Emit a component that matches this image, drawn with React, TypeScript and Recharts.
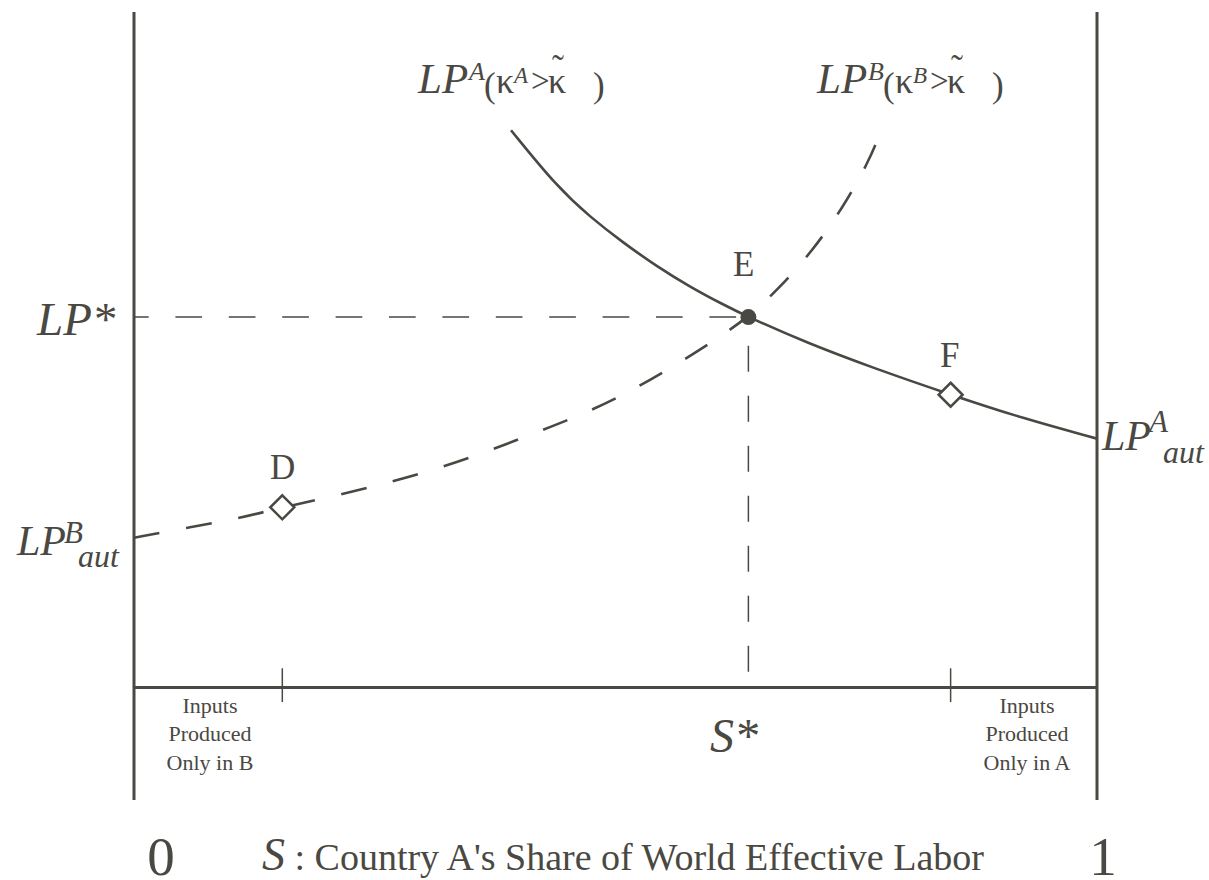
import {
  ComposedChart,
  Line,
  Scatter,
  XAxis,
  YAxis,
  ReferenceLine,
} from "recharts";

const INK = "#4a4842";
const SERIF = '"Liberation Serif", "Times New Roman", serif';

// LP^A (kappa^A > kappa~): solid, falling in S
const curveA = [
  { s: 0.3915, lp: 4.95 },
  { s: 0.439, lp: 4.45 },
  { s: 0.4735, lp: 4.18 },
  { s: 0.508, lp: 3.95 },
  { s: 0.543, lp: 3.74 },
  { s: 0.577, lp: 3.56 },
  { s: 0.612, lp: 3.4 },
  { s: 0.638, lp: 3.29 },
  { s: 0.699, lp: 3.06 },
  { s: 0.767, lp: 2.84 },
  { s: 0.848, lp: 2.6 },
  { s: 0.923, lp: 2.39 },
  { s: 1.0, lp: 2.21 },
];

// LP^B (kappa^B > kappa~): dashed, rising in S
const curveB = [
  { s: 0.0, lp: 1.33 },
  { s: 0.057, lp: 1.42 },
  { s: 0.113, lp: 1.51 },
  { s: 0.154, lp: 1.6 },
  { s: 0.193, lp: 1.67 },
  { s: 0.246, lp: 1.78 },
  { s: 0.299, lp: 1.9 },
  { s: 0.353, lp: 2.05 },
  { s: 0.404, lp: 2.22 },
  { s: 0.456, lp: 2.39 },
  { s: 0.507, lp: 2.59 },
  { s: 0.554, lp: 2.82 },
  { s: 0.601, lp: 3.07 },
  { s: 0.638, lp: 3.29 },
  { s: 0.667, lp: 3.52 },
  { s: 0.704, lp: 3.87 },
  { s: 0.736, lp: 4.26 },
  { s: 0.763, lp: 4.67 },
  { s: 0.775, lp: 4.93 },
];

const S_STAR = 0.638;
const LP_STAR = 3.29;
const equilibrium = [{ s: S_STAR, lp: LP_STAR }];
const openPoints = [
  { s: 0.154, lp: 1.6 },
  { s: 0.848, lp: 2.6 },
];
// boundaries of the specialisation regions (D and F)
const regionTicks = [0.154, 0.848];

const W = 1209;
const H = 880;

function Diamond(props: any) {
  const { cx, cy } = props;
  const r = 12;
  return (
    <path
      d={`M${cx},${cy - r}L${cx + r},${cy}L${cx},${cy + r}L${cx - r},${cy}Z`}
      fill="#fff"
      stroke={INK}
      strokeWidth={2.5}
    />
  );
}

function Dot(props: any) {
  const { cx, cy } = props;
  return <circle cx={cx} cy={cy} r={8} fill={INK} />;
}

function CurveLabel({ x, letter }: { x: number; letter: string }) {
  return (
    <g fill={INK} fontFamily={SERIF}>
      <text x={x} y={93} fontSize={43} fontStyle="italic">LP</text>
      <text x={x + 51} y={80} fontSize={26} fontStyle="italic">{letter}</text>
      <text x={x + 66} y={97} fontSize={35}>(</text>
      <text x={x + 78} y={93} fontSize={36}>κ</text>
      <text x={x + 96} y={83} fontSize={23} fontStyle="italic">{letter}</text>
      <text x={x + 113} y={92} fontSize={33}>&gt;</text>
      <text x={x + 130} y={93} fontSize={36}>κ</text>
      <text x={x + 140} y={80} fontSize={36} textAnchor="middle">˜</text>
      <text x={x + 175} y={97} fontSize={35}>)</text>
    </g>
  );
}

function Annotations() {
  return (
    <svg
      width={W}
      height={H}
      style={{ position: "absolute", left: 0, top: 0, pointerEvents: "none" }}
    >
      <g fill={INK} fontFamily={SERIF}>
        <CurveLabel x={418} letter="A" />
        <CurveLabel x={817} letter="B" />

        <text x={37} y={335} fontSize={47} fontStyle="italic">LP*</text>

        <text x={17} y={555} fontSize={42} fontStyle="italic">LP</text>
        <text x={64} y={543} fontSize={31} fontStyle="italic">B</text>
        <text x={78} y={567} fontSize={32} fontStyle="italic">aut</text>

        <text x={1102} y={450} fontSize={42} fontStyle="italic">LP</text>
        <text x={1149} y={432} fontSize={31} fontStyle="italic">A</text>
        <text x={1163} y={463} fontSize={32} fontStyle="italic">aut</text>

        <text x={733} y={276} fontSize={35}>E</text>
        <text x={940} y={367} fontSize={35}>F</text>
        <text x={270} y={479} fontSize={35}>D</text>

        <text x={710} y={752} fontSize={48} fontStyle="italic">S*</text>

        <g fontSize={22} textAnchor="middle">
          <text x={210} y={713}>Inputs</text>
          <text x={210} y={741}>Produced</text>
          <text x={210} y={770}>Only in B</text>
          <text x={1027} y={713}>Inputs</text>
          <text x={1027} y={741}>Produced</text>
          <text x={1027} y={770}>Only in A</text>
        </g>

        <text x={161} y={875} fontSize={55} textAnchor="middle">0</text>
        <text x={1103} y={875} fontSize={55} textAnchor="middle">1</text>
        <text x={262} y={870}>
          <tspan fontSize={46} fontStyle="italic">S</tspan>
          <tspan fontSize={38}> : Country A's Share of World Effective Labor</tspan>
        </text>
      </g>
    </svg>
  );
}

export default function App() {
  return (
    <div
      style={{
        position: "absolute",
        left: 0,
        top: 0,
        width: W,
        height: H,
        background: "#fff",
      }}
    >
      <ComposedChart
        width={W}
        height={H}
        margin={{ top: 12, right: 112, bottom: 80, left: 134 }}
      >
        <XAxis type="number" dataKey="s" domain={[0, 1]} hide allowDataOverflow />
        <YAxis type="number" dataKey="lp" domain={[-1, 6]} hide allowDataOverflow />

        <ReferenceLine x={0} stroke={INK} strokeWidth={3} />
        <ReferenceLine x={1} stroke={INK} strokeWidth={3} />
        <ReferenceLine y={0} stroke={INK} strokeWidth={3} />

        {regionTicks.map((s) => (
          <ReferenceLine
            key={s}
            segment={[
              { x: s, y: 0.17 },
              { x: s, y: -0.13 },
            ]}
            stroke={INK}
            strokeWidth={1.5}
          />
        ))}

        <ReferenceLine
          segment={[
            { x: 0, y: LP_STAR },
            { x: S_STAR, y: LP_STAR },
          ]}
          stroke={INK}
          strokeWidth={1.5}
          strokeDasharray="26.7 26.7"
          strokeDashoffset={12}
        />
        <ReferenceLine
          segment={[
            { x: S_STAR, y: 0.14 },
            { x: S_STAR, y: LP_STAR },
          ]}
          stroke={INK}
          strokeWidth={1.5}
          strokeDasharray="26 24"
        />

        <Line
          data={curveB}
          dataKey="lp"
          type="basis"
          stroke={INK}
          strokeWidth={2.6}
          strokeDasharray="26 27"
          dot={false}
          activeDot={false}
          isAnimationActive={false}
        />
        <Line
          data={curveA}
          dataKey="lp"
          type="basis"
          stroke={INK}
          strokeWidth={2.6}
          dot={false}
          activeDot={false}
          isAnimationActive={false}
        />

        <Scatter
          data={openPoints}
          dataKey="lp"
          shape={Diamond}
          isAnimationActive={false}
        />
        <Scatter
          data={equilibrium}
          dataKey="lp"
          shape={Dot}
          isAnimationActive={false}
        />
      </ComposedChart>
      <Annotations />
    </div>
  );
}
